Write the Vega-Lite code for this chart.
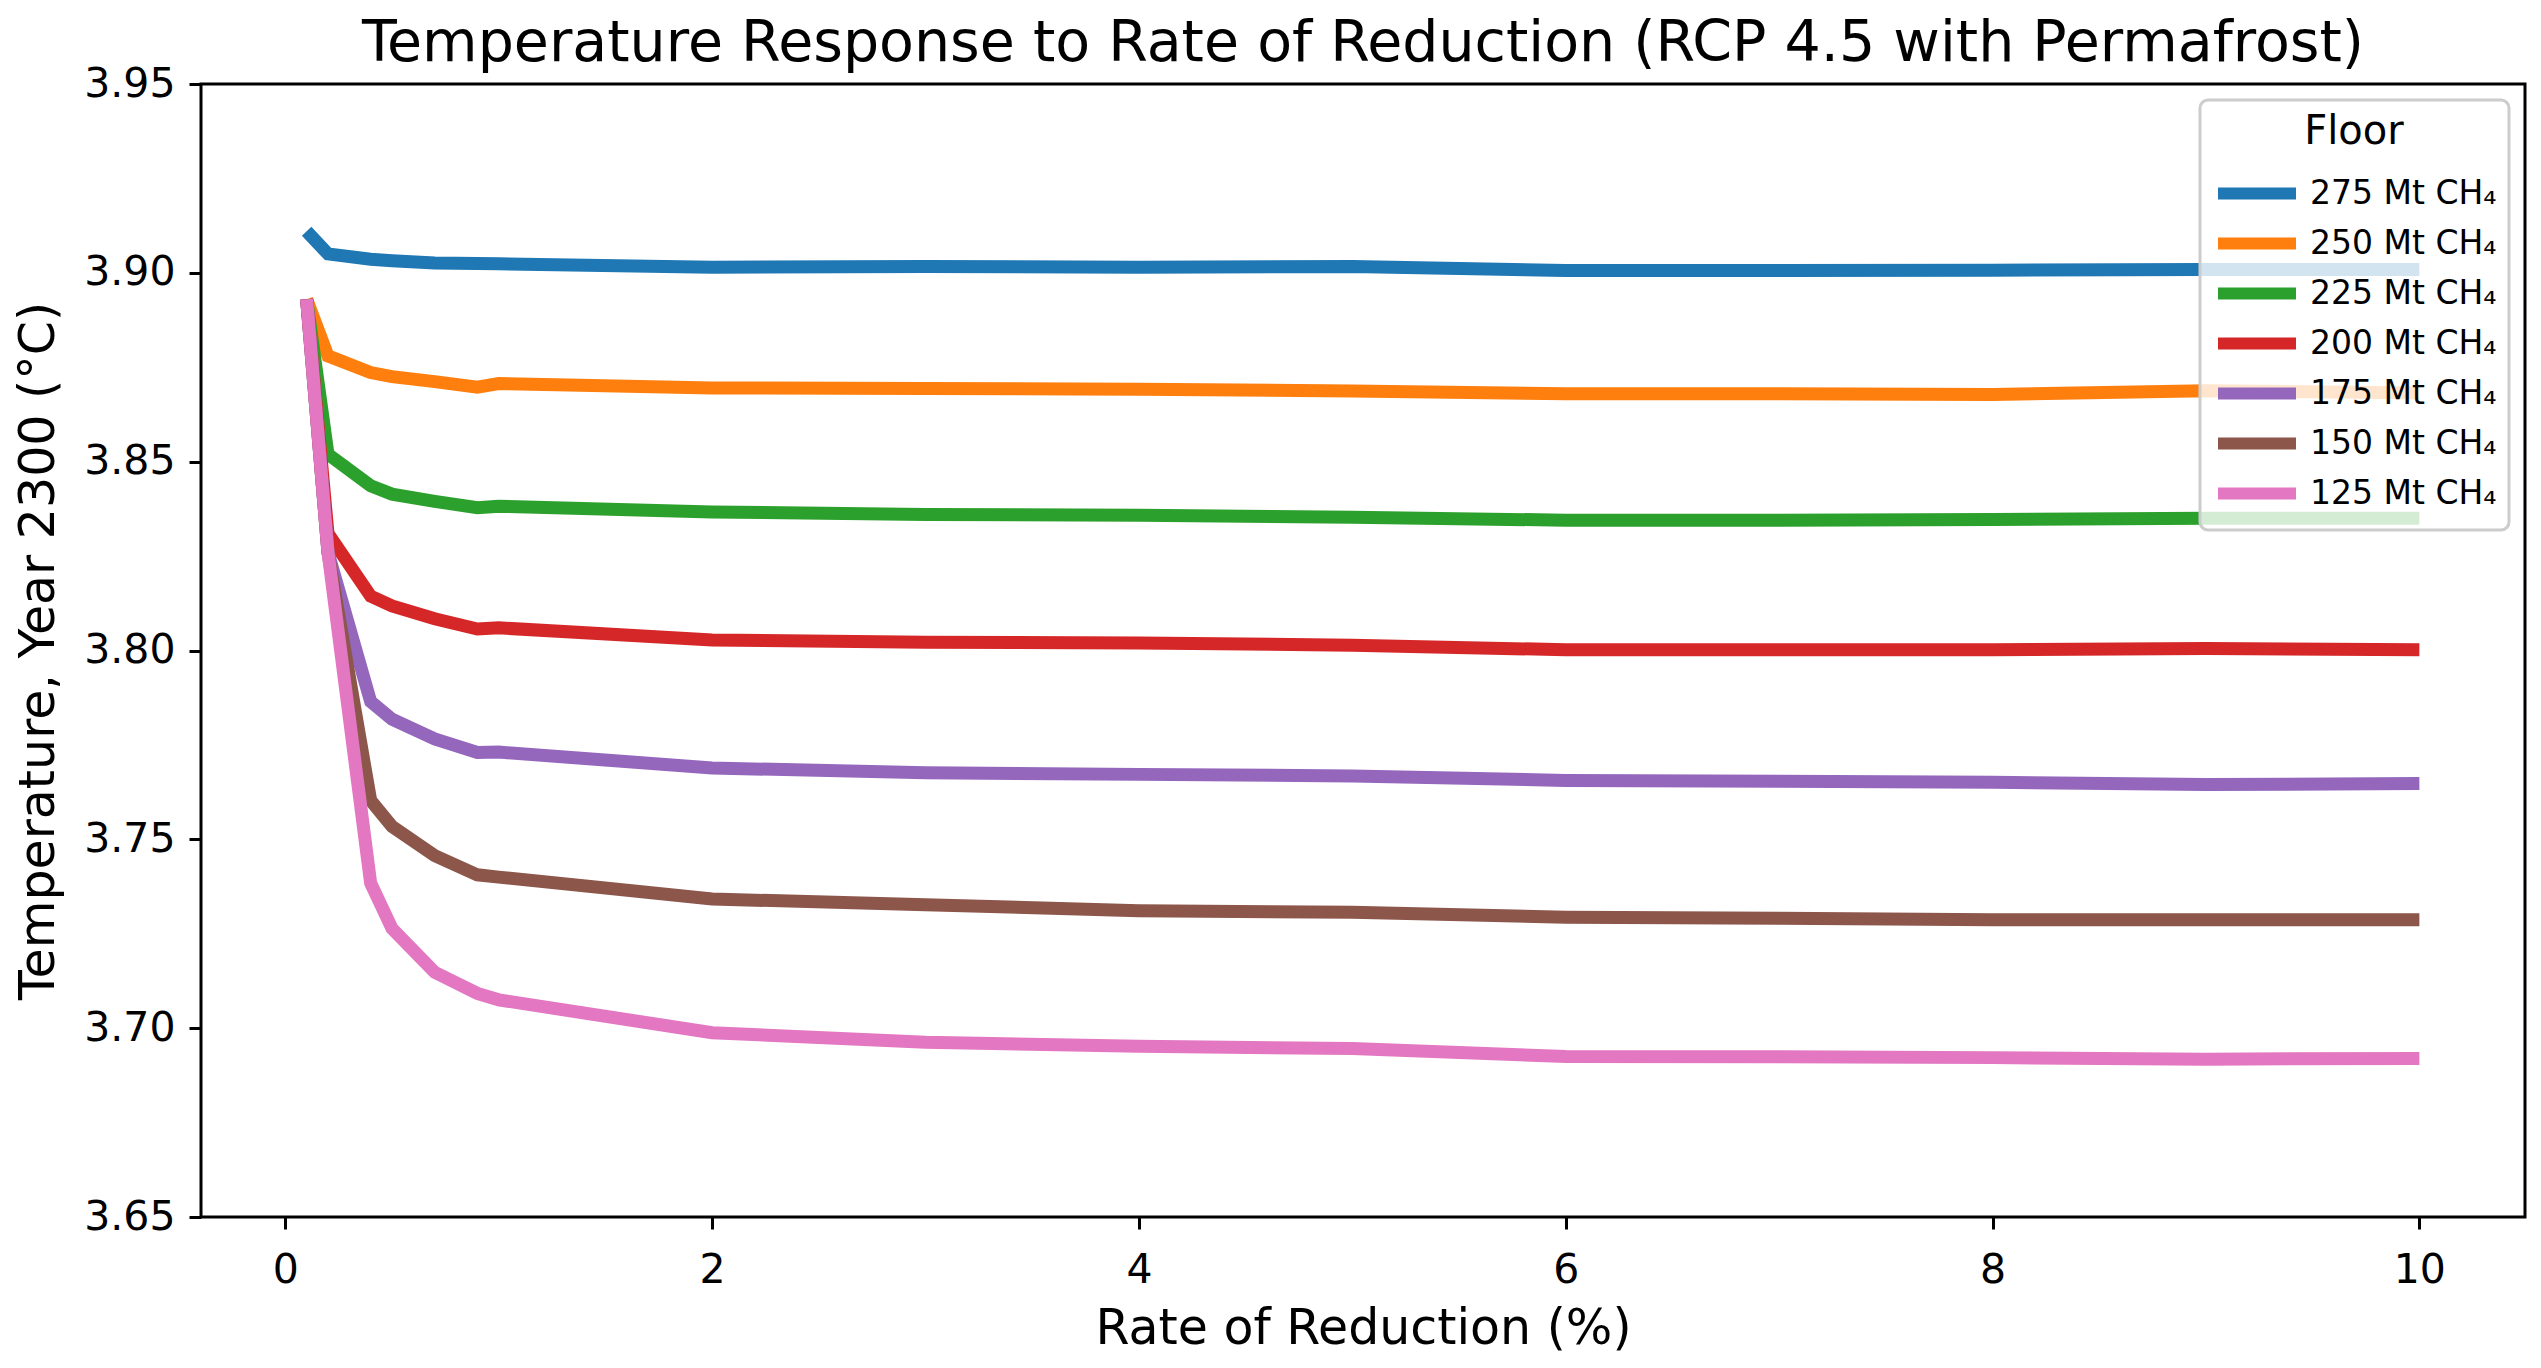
{
  "$schema": "https://vega.github.io/schema/vega-lite/v6.json",
  "width": 2324,
  "height": 1133,
  "autosize": {"type": "none"},
  "padding": {"left": 201, "top": 84, "right": 16, "bottom": 151},
  "background": "white",
  "config": {
    "font": "DejaVu Sans",
    "view": {"stroke": "black", "strokeWidth": 3},
    "legend": {"strokeWidth": 3},
    "axis": {
      "domain": false,
      "grid": false,
      "ticks": true,
      "tickColor": "black",
      "tickWidth": 3,
      "tickSize": 12,
      "labelFont": "DejaVu Sans",
      "labelFontSize": 41,
      "labelColor": "black",
      "titleFont": "DejaVu Sans",
      "titleFontSize": 49,
      "titleFontWeight": "normal",
      "titleColor": "black"
    }
  },
  "title": {
    "text": "Temperature Response to Rate of Reduction (RCP 4.5 with Permafrost)",
    "font": "DejaVu Sans",
    "fontSize": 57,
    "fontWeight": "normal",
    "color": "black",
    "anchor": "middle",
    "offset": -10
  },
  "data": {
    "values": [
      {"floor": "275 Mt CH₄", "rate": 0.1, "temp": 3.911},
      {"floor": "275 Mt CH₄", "rate": 0.2, "temp": 3.905},
      {"floor": "275 Mt CH₄", "rate": 0.4, "temp": 3.9036},
      {"floor": "275 Mt CH₄", "rate": 0.5, "temp": 3.9032},
      {"floor": "275 Mt CH₄", "rate": 0.7, "temp": 3.9026},
      {"floor": "275 Mt CH₄", "rate": 0.9, "temp": 3.9025},
      {"floor": "275 Mt CH₄", "rate": 1, "temp": 3.9024},
      {"floor": "275 Mt CH₄", "rate": 2, "temp": 3.9015},
      {"floor": "275 Mt CH₄", "rate": 3, "temp": 3.9017},
      {"floor": "275 Mt CH₄", "rate": 4, "temp": 3.9015},
      {"floor": "275 Mt CH₄", "rate": 5, "temp": 3.9017},
      {"floor": "275 Mt CH₄", "rate": 6, "temp": 3.9006},
      {"floor": "275 Mt CH₄", "rate": 7, "temp": 3.9006},
      {"floor": "275 Mt CH₄", "rate": 8, "temp": 3.9007},
      {"floor": "275 Mt CH₄", "rate": 9, "temp": 3.9009},
      {"floor": "275 Mt CH₄", "rate": 10, "temp": 3.9009},
      {"floor": "250 Mt CH₄", "rate": 0.1, "temp": 3.893},
      {"floor": "250 Mt CH₄", "rate": 0.2, "temp": 3.878},
      {"floor": "250 Mt CH₄", "rate": 0.4, "temp": 3.8736},
      {"floor": "250 Mt CH₄", "rate": 0.5, "temp": 3.8725},
      {"floor": "250 Mt CH₄", "rate": 0.7, "temp": 3.8712},
      {"floor": "250 Mt CH₄", "rate": 0.9, "temp": 3.8697},
      {"floor": "250 Mt CH₄", "rate": 1, "temp": 3.8707},
      {"floor": "250 Mt CH₄", "rate": 2, "temp": 3.8695},
      {"floor": "250 Mt CH₄", "rate": 3, "temp": 3.8694},
      {"floor": "250 Mt CH₄", "rate": 4, "temp": 3.8692},
      {"floor": "250 Mt CH₄", "rate": 5, "temp": 3.8687},
      {"floor": "250 Mt CH₄", "rate": 6, "temp": 3.868},
      {"floor": "250 Mt CH₄", "rate": 7, "temp": 3.868},
      {"floor": "250 Mt CH₄", "rate": 8, "temp": 3.8678},
      {"floor": "250 Mt CH₄", "rate": 9, "temp": 3.8688},
      {"floor": "250 Mt CH₄", "rate": 10, "temp": 3.8682},
      {"floor": "225 Mt CH₄", "rate": 0.1, "temp": 3.893},
      {"floor": "225 Mt CH₄", "rate": 0.2, "temp": 3.852},
      {"floor": "225 Mt CH₄", "rate": 0.4, "temp": 3.8436},
      {"floor": "225 Mt CH₄", "rate": 0.5, "temp": 3.8414},
      {"floor": "225 Mt CH₄", "rate": 0.7, "temp": 3.8395},
      {"floor": "225 Mt CH₄", "rate": 0.9, "temp": 3.8378},
      {"floor": "225 Mt CH₄", "rate": 1, "temp": 3.8382},
      {"floor": "225 Mt CH₄", "rate": 2, "temp": 3.8367},
      {"floor": "225 Mt CH₄", "rate": 3, "temp": 3.836},
      {"floor": "225 Mt CH₄", "rate": 4, "temp": 3.8358},
      {"floor": "225 Mt CH₄", "rate": 5, "temp": 3.8353},
      {"floor": "225 Mt CH₄", "rate": 6, "temp": 3.8345},
      {"floor": "225 Mt CH₄", "rate": 7, "temp": 3.8345},
      {"floor": "225 Mt CH₄", "rate": 8, "temp": 3.8347},
      {"floor": "225 Mt CH₄", "rate": 9, "temp": 3.835},
      {"floor": "225 Mt CH₄", "rate": 10, "temp": 3.835},
      {"floor": "200 Mt CH₄", "rate": 0.1, "temp": 3.893},
      {"floor": "200 Mt CH₄", "rate": 0.2, "temp": 3.831},
      {"floor": "200 Mt CH₄", "rate": 0.4, "temp": 3.8144},
      {"floor": "200 Mt CH₄", "rate": 0.5, "temp": 3.8118},
      {"floor": "200 Mt CH₄", "rate": 0.7, "temp": 3.8084},
      {"floor": "200 Mt CH₄", "rate": 0.9, "temp": 3.8057},
      {"floor": "200 Mt CH₄", "rate": 1, "temp": 3.806},
      {"floor": "200 Mt CH₄", "rate": 2, "temp": 3.8028},
      {"floor": "200 Mt CH₄", "rate": 3, "temp": 3.8022},
      {"floor": "200 Mt CH₄", "rate": 4, "temp": 3.802},
      {"floor": "200 Mt CH₄", "rate": 5, "temp": 3.8014},
      {"floor": "200 Mt CH₄", "rate": 6, "temp": 3.8002},
      {"floor": "200 Mt CH₄", "rate": 7, "temp": 3.8002},
      {"floor": "200 Mt CH₄", "rate": 8, "temp": 3.8002},
      {"floor": "200 Mt CH₄", "rate": 9, "temp": 3.8005},
      {"floor": "200 Mt CH₄", "rate": 10, "temp": 3.8002},
      {"floor": "175 Mt CH₄", "rate": 0.1, "temp": 3.893},
      {"floor": "175 Mt CH₄", "rate": 0.2, "temp": 3.826},
      {"floor": "175 Mt CH₄", "rate": 0.4, "temp": 3.7865},
      {"floor": "175 Mt CH₄", "rate": 0.5, "temp": 3.7818},
      {"floor": "175 Mt CH₄", "rate": 0.7, "temp": 3.7766},
      {"floor": "175 Mt CH₄", "rate": 0.9, "temp": 3.773},
      {"floor": "175 Mt CH₄", "rate": 1, "temp": 3.7731},
      {"floor": "175 Mt CH₄", "rate": 2, "temp": 3.7689},
      {"floor": "175 Mt CH₄", "rate": 3, "temp": 3.7676},
      {"floor": "175 Mt CH₄", "rate": 4, "temp": 3.7672},
      {"floor": "175 Mt CH₄", "rate": 5, "temp": 3.7668},
      {"floor": "175 Mt CH₄", "rate": 6, "temp": 3.7656},
      {"floor": "175 Mt CH₄", "rate": 7, "temp": 3.7654},
      {"floor": "175 Mt CH₄", "rate": 8, "temp": 3.7651},
      {"floor": "175 Mt CH₄", "rate": 9, "temp": 3.7645},
      {"floor": "175 Mt CH₄", "rate": 10, "temp": 3.7648},
      {"floor": "150 Mt CH₄", "rate": 0.1, "temp": 3.893},
      {"floor": "150 Mt CH₄", "rate": 0.2, "temp": 3.826},
      {"floor": "150 Mt CH₄", "rate": 0.4, "temp": 3.7603},
      {"floor": "150 Mt CH₄", "rate": 0.5, "temp": 3.7534},
      {"floor": "150 Mt CH₄", "rate": 0.7, "temp": 3.7457},
      {"floor": "150 Mt CH₄", "rate": 0.9, "temp": 3.7406},
      {"floor": "150 Mt CH₄", "rate": 1, "temp": 3.74},
      {"floor": "150 Mt CH₄", "rate": 2, "temp": 3.7342},
      {"floor": "150 Mt CH₄", "rate": 3, "temp": 3.7327},
      {"floor": "150 Mt CH₄", "rate": 4, "temp": 3.7311},
      {"floor": "150 Mt CH₄", "rate": 5, "temp": 3.7307},
      {"floor": "150 Mt CH₄", "rate": 6, "temp": 3.7294},
      {"floor": "150 Mt CH₄", "rate": 7, "temp": 3.7291},
      {"floor": "150 Mt CH₄", "rate": 8, "temp": 3.7287},
      {"floor": "150 Mt CH₄", "rate": 9, "temp": 3.7287},
      {"floor": "150 Mt CH₄", "rate": 10, "temp": 3.7287},
      {"floor": "125 Mt CH₄", "rate": 0.1, "temp": 3.893},
      {"floor": "125 Mt CH₄", "rate": 0.2, "temp": 3.826},
      {"floor": "125 Mt CH₄", "rate": 0.4, "temp": 3.7384},
      {"floor": "125 Mt CH₄", "rate": 0.5, "temp": 3.7264},
      {"floor": "125 Mt CH₄", "rate": 0.7, "temp": 3.7148},
      {"floor": "125 Mt CH₄", "rate": 0.9, "temp": 3.7092},
      {"floor": "125 Mt CH₄", "rate": 1, "temp": 3.7075},
      {"floor": "125 Mt CH₄", "rate": 2, "temp": 3.6988},
      {"floor": "125 Mt CH₄", "rate": 3, "temp": 3.6963},
      {"floor": "125 Mt CH₄", "rate": 4, "temp": 3.6952},
      {"floor": "125 Mt CH₄", "rate": 5, "temp": 3.6946},
      {"floor": "125 Mt CH₄", "rate": 6, "temp": 3.6925},
      {"floor": "125 Mt CH₄", "rate": 7, "temp": 3.6924},
      {"floor": "125 Mt CH₄", "rate": 8, "temp": 3.6922},
      {"floor": "125 Mt CH₄", "rate": 9, "temp": 3.6918},
      {"floor": "125 Mt CH₄", "rate": 10, "temp": 3.692}
    ]
  },
  "mark": {"type": "line", "strokeWidth": 13, "strokeJoin": "miter", "strokeCap": "butt"},
  "encoding": {
    "x": {
      "field": "rate",
      "type": "quantitative",
      "title": "Rate of Reduction (%)",
      "scale": {"domain": [-0.395, 10.495], "nice": false, "zero": false},
      "axis": {"values": [0, 2, 4, 6, 8, 10], "format": "d", "labelPadding": 21, "titlePadding": 14}
    },
    "y": {
      "field": "temp",
      "type": "quantitative",
      "title": "Temperature, Year 2300 (°C)",
      "scale": {"domain": [3.65, 3.95], "nice": false, "zero": false},
      "axis": {"values": [3.65, 3.7, 3.75, 3.8, 3.85, 3.9, 3.95], "format": ".2f", "labelPadding": 14, "titlePadding": 20}
    },
    "color": {
      "field": "floor",
      "type": "nominal",
      "sort": null,
      "scale": {
        "domain": ["275 Mt CH₄", "250 Mt CH₄", "225 Mt CH₄", "200 Mt CH₄", "175 Mt CH₄", "150 Mt CH₄", "125 Mt CH₄"],
        "range": ["#1f77b4", "#ff7f0e", "#2ca02c", "#d62728", "#9467bd", "#8c564b", "#e377c2"]
      },
      "legend": {
        "title": "Floor",
        "orient": "top-right",
        "offset": 16,
        "padding": 12,
        "fillColor": "rgba(255,255,255,0.8)",
        "strokeColor": "#cccccc",
        "cornerRadius": 8,
        "titleFont": "DejaVu Sans",
        "titleFontSize": 40,
        "titleFontWeight": "normal",
        "titleColor": "black",
        "titleAnchor": "middle",
        "titlePadding": 16,
        "labelFont": "DejaVu Sans",
        "labelFontSize": 33,
        "labelColor": "black",
        "labelOffset": 47,
        "labelLimit": 500,
        "symbolType": "M-1,0H3",
        "symbolSize": 1521,
        "symbolStrokeWidth": 12,
        "rowPadding": 0
      }
    }
  }
}
